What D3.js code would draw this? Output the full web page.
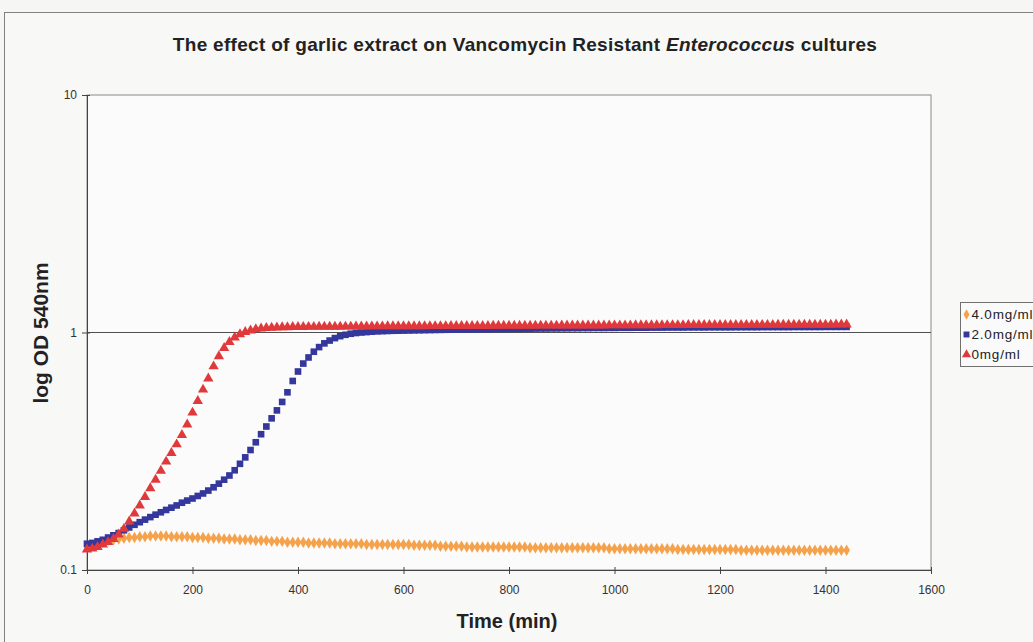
<!DOCTYPE html>
<html>
<head>
<meta charset="utf-8">
<script src="https://cdn.jsdelivr.net/npm/d3@7"></script>
<style>
  body { margin: 0; background: #f6f6f5; }
  .chart text { font-family: "Liberation Sans", Arial, sans-serif; fill: #222; }
  .tick text { font-size: 12px; fill: #333; }
</style>
</head>
<body>
<div class="chart"></div>
<script>
// Define SVG area dimensions
var svgWidth = 1033;
var svgHeight = 642;

// Chart margins (plot area inside)
var margin = { top: 95, right: 102, bottom: 72, left: 87 };
var width = svgWidth - margin.left - margin.right;
var height = svgHeight - margin.top - margin.bottom;

// Data: OD readings every 10 minutes, 0..1440 min
var times = d3.range(0, 1441, 10);
var seriesNames = ["4.0mg/ml", "2.0mg/ml", "0mg/ml"];
var xTicks = [0, 200, 400, 600, 800, 1000, 1200, 1400, 1600];
var yTicks = [0.1, 1, 10];

var od4 = [
  0.125, 0.127, 0.129, 0.131, 0.133, 0.134, 0.135, 0.136, 0.137, 0.137,
  0.138, 0.138, 0.139, 0.139, 0.139, 0.139, 0.138, 0.138, 0.138, 0.138,
  0.137, 0.137, 0.137, 0.136, 0.136, 0.136, 0.135, 0.135, 0.135, 0.134,
  0.134, 0.134, 0.133, 0.133, 0.133, 0.132, 0.132, 0.132, 0.131, 0.131,
  0.131, 0.131, 0.130, 0.130, 0.130, 0.130, 0.130, 0.129, 0.129, 0.129,
  0.129, 0.129, 0.129, 0.128, 0.128, 0.128, 0.128, 0.128, 0.128, 0.128,
  0.128, 0.128, 0.127, 0.127, 0.127, 0.127, 0.127, 0.126, 0.126, 0.126,
  0.126, 0.126, 0.125, 0.125, 0.125, 0.125, 0.125, 0.125, 0.125, 0.125,
  0.125, 0.125, 0.125, 0.125, 0.124, 0.124, 0.124, 0.124, 0.124, 0.124,
  0.124, 0.124, 0.124, 0.124, 0.124, 0.124, 0.124, 0.124, 0.124, 0.123,
  0.123, 0.123, 0.123, 0.123, 0.123, 0.123, 0.123, 0.123, 0.123, 0.123,
  0.123, 0.123, 0.122, 0.122, 0.122, 0.122, 0.122, 0.122, 0.122, 0.122,
  0.122, 0.122, 0.122, 0.122, 0.121, 0.121, 0.121, 0.121, 0.121, 0.121,
  0.121, 0.121, 0.121, 0.121, 0.121, 0.121, 0.121, 0.121, 0.121, 0.121,
  0.121, 0.121, 0.121, 0.121, 0.121
];

var od2 = [
  0.129, 0.130, 0.132, 0.134, 0.137, 0.140, 0.143, 0.147, 0.151, 0.155,
  0.159, 0.163, 0.167, 0.171, 0.175, 0.179, 0.183, 0.187, 0.192, 0.196,
  0.200, 0.205, 0.210, 0.216, 0.223, 0.231, 0.240, 0.250, 0.263, 0.280,
  0.298, 0.320, 0.345, 0.373, 0.402, 0.435, 0.470, 0.510, 0.560, 0.625,
  0.685, 0.740, 0.785, 0.830, 0.868, 0.900, 0.925, 0.947, 0.965, 0.978,
  0.988, 0.995, 1.000, 1.004, 1.008, 1.011, 1.013, 1.015, 1.017, 1.018,
  1.019, 1.020, 1.021, 1.022, 1.023, 1.024, 1.025, 1.026, 1.027, 1.028,
  1.029, 1.030, 1.030, 1.031, 1.032, 1.033, 1.033, 1.034, 1.035, 1.035,
  1.036, 1.037, 1.037, 1.038, 1.038, 1.039, 1.040, 1.040, 1.041, 1.041,
  1.042, 1.042, 1.043, 1.043, 1.044, 1.044, 1.045, 1.045, 1.045, 1.046,
  1.046, 1.047, 1.047, 1.047, 1.048, 1.048, 1.048, 1.049, 1.049, 1.049,
  1.050, 1.050, 1.050, 1.050, 1.051, 1.051, 1.051, 1.051, 1.052, 1.052,
  1.052, 1.052, 1.052, 1.053, 1.053, 1.053, 1.053, 1.053, 1.054, 1.054,
  1.054, 1.054, 1.054, 1.054, 1.055, 1.055, 1.055, 1.055, 1.055, 1.055,
  1.056, 1.056, 1.056, 1.056, 1.056
];

var od0 = [
  0.122, 0.123, 0.125, 0.128, 0.131, 0.135, 0.141, 0.149, 0.160, 0.173,
  0.187, 0.203, 0.221, 0.240, 0.262, 0.286, 0.311, 0.338, 0.370, 0.410,
  0.460, 0.515, 0.575, 0.640, 0.720, 0.795, 0.860, 0.912, 0.953, 0.984,
  1.005, 1.020, 1.032, 1.040, 1.045, 1.048, 1.050, 1.052, 1.053, 1.054,
  1.055, 1.055, 1.056, 1.056, 1.057, 1.057, 1.058, 1.058, 1.058, 1.059,
  1.059, 1.060, 1.060, 1.060, 1.061, 1.061, 1.061, 1.062, 1.062, 1.062,
  1.062, 1.063, 1.063, 1.063, 1.063, 1.064, 1.064, 1.064, 1.064, 1.065,
  1.065, 1.065, 1.065, 1.066, 1.066, 1.066, 1.066, 1.067, 1.067, 1.067,
  1.067, 1.067, 1.068, 1.068, 1.068, 1.068, 1.069, 1.069, 1.069, 1.069,
  1.070, 1.070, 1.070, 1.070, 1.070, 1.071, 1.071, 1.071, 1.071, 1.072,
  1.072, 1.072, 1.072, 1.072, 1.073, 1.073, 1.073, 1.073, 1.073, 1.074,
  1.074, 1.074, 1.074, 1.074, 1.075, 1.075, 1.075, 1.075, 1.075, 1.076,
  1.076, 1.076, 1.076, 1.076, 1.076, 1.077, 1.077, 1.077, 1.077, 1.077,
  1.077, 1.078, 1.078, 1.078, 1.078, 1.078, 1.078, 1.079, 1.079, 1.079,
  1.079, 1.079, 1.080, 1.080, 1.080
];

var seriesValues = [od4, od2, od0];
var seriesColors = ["#f5a24c", "#34379c", "#e0393b"];
var seriesSymbols = [d3.symbolDiamond, d3.symbolSquare, d3.symbolTriangle];
var symbolSizes = [38, 44, 46];

var svg = d3.select(".chart")
  .append("svg")
  .attr("width", svgWidth)
  .attr("height", svgHeight);

// Outer chart frame (runs off the right/bottom of the picture)
svg.append("rect")
  .attr("x", 4.5).attr("y", 12.5)
  .attr("width", 1100).attr("height", 700)
  .attr("fill", "#f8f8f7")
  .attr("stroke", "#808080");

var chart = svg.append("g")
  .attr("transform", "translate(" + margin.left + ", " + margin.top + ")");

// Scales
var xLinearScale = d3.scaleLinear().domain([0, 1600]).range([0, width]);
var yLogScale = d3.scaleLog().domain([0.1, 10]).range([height, 0]);

// Plot area
chart.append("rect")
  .attr("width", width).attr("height", height)
  .attr("fill", "#fbfbfb")
  .attr("stroke", "#8a8a8a");

// Gridline at 1
chart.append("line")
  .attr("x1", 0).attr("x2", width)
  .attr("y1", yLogScale(1)).attr("y2", yLogScale(1))
  .attr("stroke", "#505050");

// Axes
var bottomAxis = d3.axisBottom(xLinearScale).tickValues(xTicks).tickSize(4).tickFormat(d3.format("d"));
var leftAxis = d3.axisLeft(yLogScale).tickValues(yTicks).tickSize(4).tickFormat(function(d) { return d; });

var xg = chart.append("g")
  .attr("transform", "translate(0, " + height + ")")
  .call(bottomAxis);
xg.selectAll(".tick line").attr("y1", -3).attr("y2", 4).attr("stroke", "#444");
xg.selectAll(".tick text").attr("dy", "1.45em");
xg.select(".domain").attr("stroke", "#444");

var yg = chart.append("g").call(leftAxis);
yg.selectAll(".tick line").attr("x1", 3).attr("x2", -5).attr("stroke", "#444");
yg.selectAll(".tick text").attr("x", -10);
yg.select(".domain").attr("stroke", "#444");

// Series markers
seriesValues.forEach(function(vals, i) {
  var sym = d3.symbol().type(seriesSymbols[i]).size(symbolSizes[i]);
  chart.append("g")
    .selectAll("path")
    .data(vals)
    .enter().append("path")
    .attr("transform", function(d, j) {
      return "translate(" + xLinearScale(times[j]) + "," + yLogScale(d) + ")";
    })
    .attr("d", sym)
    .attr("fill", seriesColors[i]);
});

// Title
var title = svg.append("text")
  .attr("x", 525).attr("y", 51)
  .attr("text-anchor", "middle")
  .style("font-size", "19px")
  .style("letter-spacing", "0.3px")
  .style("font-weight", "bold");
title.append("tspan").text("The effect of garlic extract on Vancomycin Resistant ");
title.append("tspan").style("font-style", "italic").text("Enterococcus");
title.append("tspan").text("  cultures");

// Axis labels
svg.append("text")
  .attr("transform", "rotate(-90)")
  .attr("x", -333).attr("y", 48)
  .attr("text-anchor", "middle")
  .style("font-size", "21px")
  .style("font-weight", "bold")
  .text("log OD 540nm");

svg.append("text")
  .attr("x", 507).attr("y", 628)
  .attr("text-anchor", "middle")
  .style("font-size", "20px")
  .style("font-weight", "bold")
  .text("Time (min)");

// Legend
var legend = svg.append("g").attr("transform", "translate(960.5, 302.5)");
legend.append("rect")
  .attr("width", 90).attr("height", 64)
  .attr("fill", "#fafafa")
  .attr("stroke", "#707070");
seriesNames.forEach(function(name, i) {
  var row = legend.append("g").attr("transform", "translate(0, " + (12 + i * 20) + ")");
  row.append("path")
    .attr("transform", "translate(6, 0)")
    .attr("d", d3.symbol().type(seriesSymbols[i]).size(symbolSizes[i] * 0.8)())
    .attr("fill", seriesColors[i]);
  row.append("text")
    .attr("x", 11).attr("dy", "0.35em")
    .style("font-size", "13.5px")
    .style("letter-spacing", "0.8px")
    .text(name);
});
</script>
</body>
</html>
